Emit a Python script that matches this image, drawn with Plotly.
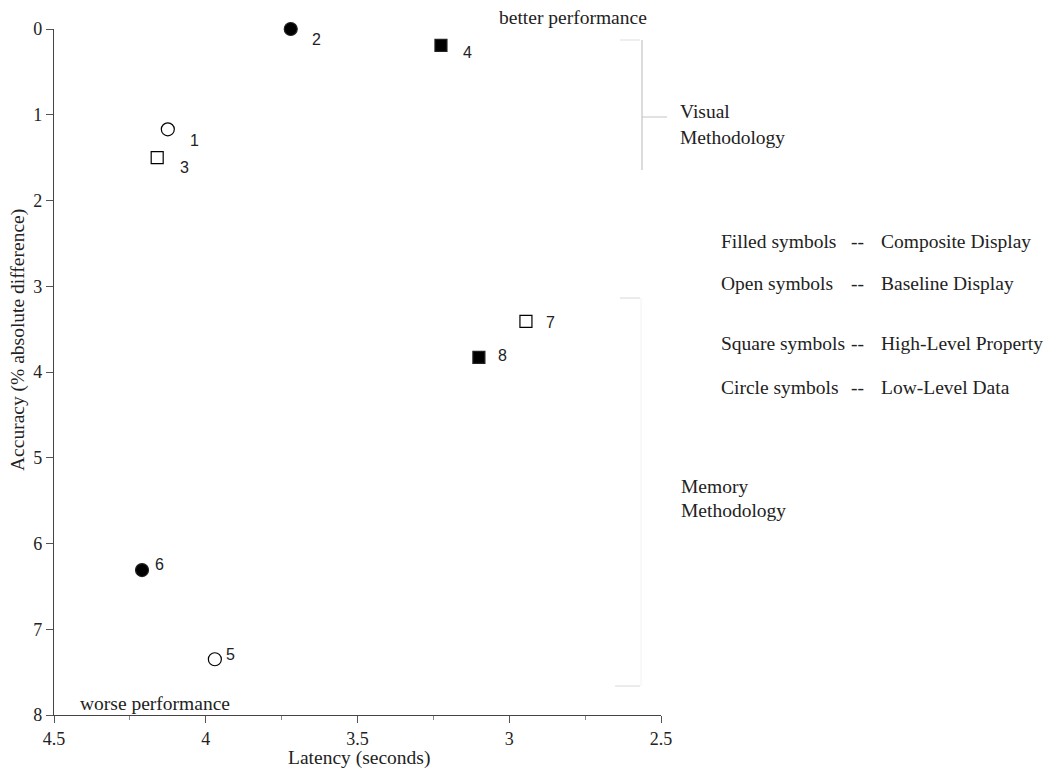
import plotly.graph_objects as go

# ---- data ----
point_ids = ["1", "2", "3", "4", "5", "6", "7", "8"]
latency = [4.125, 3.72, 4.16, 3.225, 3.97, 4.21, 2.945, 3.10]
accuracy = [1.17, 0.0, 1.50, 0.19, 7.35, 6.31, 3.41, 3.83]
shape = ["circle", "circle", "square", "square", "circle", "circle", "square", "square"]
filled = [False, True, False, True, False, True, False, True]

x_ticks = [4.5, 4, 3.5, 3, 2.5]
x_tick_labels = ["4.5", "4", "3.5", "3", "2.5"]
y_ticks = [0, 1, 2, 3, 4, 5, 6, 7, 8]
y_tick_labels = ["0", "1", "2", "3", "4", "5", "6", "7", "8"]

legend_left = ["Filled symbols", "Open symbols", "Square symbols", "Circle symbols"]
legend_right = ["Composite Display", "Baseline Display", "High-Level Property", "Low-Level Data"]

# ---- layout geometry (page pixels; body margin removed via post_script) ----
W, H = 1047, 771
PL, PR, PT, PB = 54, 661, 29, 715
SERIF = "Liberation Serif"
SANS = "Liberation Sans"
TXT = 19.5


def px(x):
    return (x - PL) / (PR - PL)


def py(y):
    return (PB - y) / (PB - PT)


fig = go.Figure()

for shp, fil in [("circle", True), ("circle", False), ("square", True), ("square", False)]:
    idx = [i for i in range(len(point_ids)) if shape[i] == shp and filled[i] == fil]
    sym = shp if fil else shp + "-open"
    fig.add_trace(go.Scatter(
        x=[latency[i] for i in idx],
        y=[accuracy[i] for i in idx],
        mode="markers",
        marker=dict(symbol=sym, size=13 if shp == "circle" else 12,
                    color="black", line=dict(color="#222", width=1.2)),
        showlegend=False, hoverinfo="skip", cliponaxis=False,
    ))

# number labels next to markers (pixel offsets)
label_offsets = {"1": (27, 11), "2": (26, 10), "3": (27, 10), "4": (27, 7),
                 "5": (16, -5), "6": (17, -6), "7": (25, 1), "8": (24, -2)}
annotations = []
for pid, x, y in zip(point_ids, latency, accuracy):
    dx, dy = label_offsets[pid]
    annotations.append(dict(x=x, y=y, xref="x", yref="y", text=pid, showarrow=False,
                            xshift=dx, yshift=-dy, font=dict(family=SANS, size=16, color="#222")))


def add_text(x, y, text, anchor="left", size=TXT, angle=0):
    annotations.append(dict(x=px(x), y=py(y), xref="paper", yref="paper", text=text,
                            showarrow=False, xanchor=anchor, yanchor="middle", textangle=angle,
                            font=dict(family=SERIF, size=size, color="#222")))


add_text(497, 17, "better performance")
add_text(78, 703, "worse performance")
add_text(678, 111, "Visual")
add_text(678, 137, "Methodology")
add_text(679, 486, "Memory")
add_text(679, 511, "Methodology")
add_text(359, 758, "Latency (seconds)", anchor="center")
add_text(18, 340, "Accuracy (% absolute difference)", anchor="center", angle=-90)

rows_y = [241, 283, 344, 387]
for ly, lt, rt in zip(rows_y, legend_left, legend_right):
    add_text(719, ly, lt)
    add_text(849, ly, "--")
    add_text(879, ly, rt)

shapes = []


def line(x0, y0, x1, y1, color):
    shapes.append(dict(type="line", xref="paper", yref="paper", x0=px(x0), y0=py(y0),
                       x1=px(x1), y1=py(y1), line=dict(color=color, width=1)))


line(642, 40, 642, 170, "#b8b8b8")
line(642, 117, 667, 117, "#c4c4c4")
line(620, 40, 640, 40, "#dddddd")
line(620, 298, 640, 298, "#d8d8d8")
line(615, 686, 640, 686, "#d8d8d8")
line(641, 298, 641, 686, "#f2f2f2")

fig.update_layout(
    width=W, height=H,
    margin=dict(l=PL, r=W - PR, t=PT, b=H - PB),
    paper_bgcolor="white", plot_bgcolor="white",
    annotations=annotations, shapes=shapes,
    xaxis=dict(range=[4.5, 2.5], tickvals=x_ticks, ticktext=x_tick_labels,
               showgrid=False, zeroline=False, showline=True, linecolor="#444", linewidth=1.2,
               ticks="outside", ticklen=7, tickcolor="#555",
               minor=dict(dtick=0.25, ticks="outside", ticklen=4, tickcolor="#888", showgrid=False),
               tickfont=dict(family=SERIF, size=18, color="#222")),
    yaxis=dict(range=[8, 0], tickvals=y_ticks, ticktext=y_tick_labels,
               showgrid=False, zeroline=False, showline=True, linecolor="#444", linewidth=1.2,
               ticks="outside", ticklen=7, tickcolor="#555",
               tickfont=dict(family=SERIF, size=18, color="#222")),
)

fig.write_html("out.html", config={"displayModeBar": False},
               post_script="document.body.style.margin='0';document.body.style.overflow='hidden';")
